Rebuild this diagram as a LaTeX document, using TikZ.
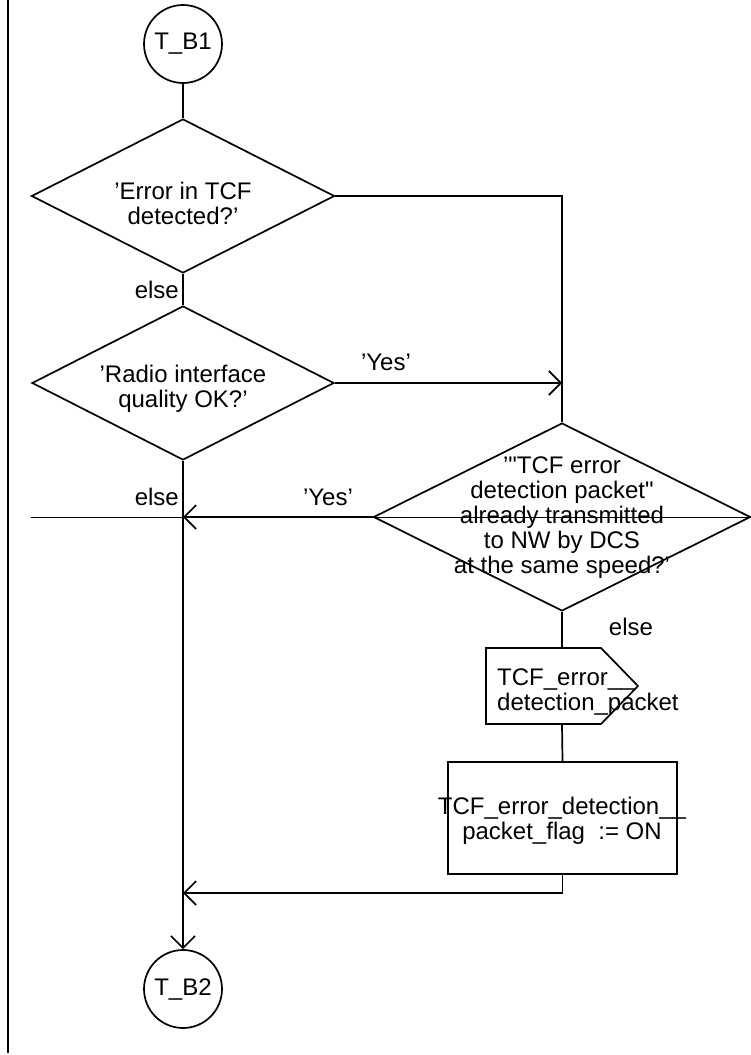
\documentclass[tikz,border=0pt]{standalone}
\usepackage{fontspec}
\setmainfont{Liberation Sans}[Ligatures=TeXOff]
\usetikzlibrary{arrows.meta,shapes.geometric}
\begin{document}
\begin{tikzpicture}[x=1pt,y=-1pt,
  every node/.style={font=\fontsize{24}{25}\selectfont},
  ln/.style={line width=1.7pt},
  arr/.style={ln,-{Straight Barb[length=12pt,width=24pt]}},
  term/.style={circle,draw,ln,minimum size=78pt,inner sep=0pt},
  dec/.style={diamond,draw,ln,inner sep=0pt},
  txt/.style={align=center,inner sep=0pt},
  lbl/.style={inner sep=0pt},
]
\useasboundingbox (0,0) rectangle (750,1055);
% left border
\draw[line width=2.4pt] (8,0) coordinate (lt) -- (8,1053) coordinate (lb);

\node[term] (tb1) at (183,44) {T\_B1};
\node[dec, minimum width=303pt, minimum height=154pt] (d1) at (183,196) {};
\node[txt] (d1t) at (183,203) {’Error in TCF\\detected?’};
\node[dec, minimum width=302pt, minimum height=154pt] (d2) at (183,383) {};
\node[txt] (d2t) at (183,389) {’Radio interface\\quality OK?’};
\node[dec, minimum width=377pt, minimum height=188pt] (d3) at (562,517) {};
\node[txt] (d3t) at (562,518) {’"TCF error\\detection packet"\\already transmitted\\to NW by DCS\\at the same speed?’};
% output signal symbol
\draw[ln] (486,648) coordinate (sigtl) -- (601,648) -- (638,686) -- (601,724) -- (486,724) -- cycle;
\coordinate (sign) at (562,648);
\coordinate (sigs) at (562,724);
\node[align=left, anchor=west, inner sep=0pt] (sigt) at (497,692) {TCF\_error\_\_\\detection\_packet};
\node[draw, ln, minimum width=229pt, minimum height=112pt, inner sep=0pt] (box) at (562.5,818) {};
\node[txt] (boxt) at (562,821) {TCF\_error\_detection\_\_\\packet\_flag\ \ := ON};
\node[term] (tb2) at (183,989) {T\_B2};

\coordinate (j1) at (d2.south |- d3.west);
\coordinate (j2) at (183,893);
\coordinate (th) at (31,517);

% connectors
\draw[ln] (tb1.south) -- (d1.north);
\draw[ln] (d1.east) -| (d3.north);
\draw[ln] (d1.south) -- (d2.north);
\draw[arr] (d2.east) -- (d2.east -| d3.north);
\draw[ln] (d2.south) -- (j2);
\draw[line width=1pt] (th) -- (d3.east);
\draw[arr] (d3.west) -- (j1);
\draw[ln] (d3.south) -- (sign);
\draw[ln] (sigs) -- (box.north);
\draw[arr] (box.south) |- (j2);
\draw[arr] (j2) -- (tb2.north);

% labels
\node[lbl, anchor=east] (e1) at (179,290) {else};
\node[lbl] (y1) at (386,362) {’Yes’};
\node[lbl, anchor=east] (e2) at (179,497) {else};
\node[lbl] (y2) at (328,497) {’Yes’};
\node[lbl] (e3) at (631,627) {else};
\end{tikzpicture}
\end{document}
